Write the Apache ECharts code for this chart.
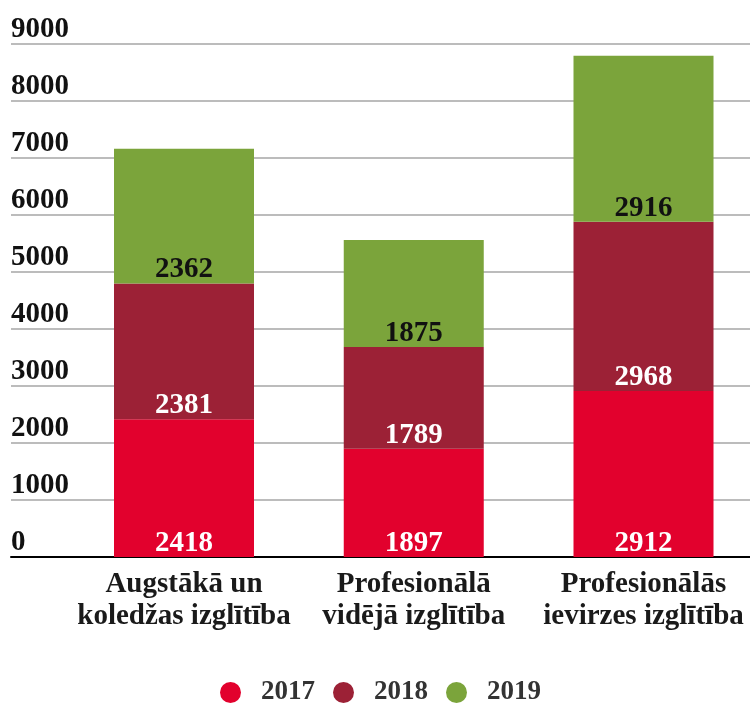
<!DOCTYPE html>
<html>
<head>
<meta charset="utf-8">
<script src="https://cdn.jsdelivr.net/npm/echarts@6/dist/echarts.min.js"></script>
<style>
  html, body { margin: 0; padding: 0; background: #fff; }
  #chart { width: 750px; height: 704px; }
</style>
</head>
<body>
<div id="chart"></div>
<script>
const categories = ['Augstākā un\nkoledžas izglītība', 'Profesionālā\nvidējā izglītība', 'Profesionālās\nievirzes izglītība']
const years = ['2017', '2018', '2019']
const values2017 = [2418, 1897, 2912]
const values2018 = [2381, 1789, 2968]
const values2019 = [2362, 1875, 2916]
const yTicks = [0, 1000, 2000, 3000, 4000, 5000, 6000, 7000, 8000, 9000]

const colors = ['#e2012d', '#9c2136', '#7ba43b']
const labelColors = ['#fff', '#fff', '#111']
const font = 'Liberation Serif, Times New Roman, serif'

const chart = echarts.init(document.getElementById('chart'))

function makeSeries (name, data, idx) {
  return {
    name: name,
    type: 'bar',
    stack: 'total',
    xAxisIndex: 1,
    yAxisIndex: 1,
    barWidth: 140,
    itemStyle: { color: colors[idx] },
    label: {
      show: true,
      position: 'insideBottom',
      distance: -1,
      color: labelColors[idx],
      fontFamily: font,
      fontWeight: 'bold',
      fontSize: 29,
      lineHeight: 29
    },
    data: data
  }
}

// bar centres sit at 184 / 413.5 / 643.5 px, so the bar grid uses boundaryGap false
const options = {
  animation: false,
  grid: [
    { left: 11, right: 0, top: 44, bottom: 147, containLabel: false },
    { left: 184, right: 106.5, top: 44, bottom: 147, containLabel: false }
  ],
  legend: {
    data: years,
    left: 215,
    top: 674,
    icon: 'circle',
    itemWidth: 21,
    itemHeight: 21,
    itemGap: 18,
    textStyle: {
      fontFamily: font,
      fontWeight: 'bold',
      fontSize: 27,
      color: '#333',
      padding: [0, 0, 0, 15]
    }
  },
  xAxis: [
    {
      gridIndex: 0,
      type: 'category',
      data: [''],
      axisLine: { show: true, lineStyle: { color: '#000', width: 2 } },
      axisTick: { show: false },
      axisLabel: { show: false }
    },
    {
      gridIndex: 1,
      type: 'category',
      boundaryGap: false,
      data: categories,
      axisLine: { show: false },
      axisTick: { show: false },
      axisLabel: {
        interval: 0,
        margin: 12,
        fontFamily: font,
        fontWeight: 'bold',
        fontSize: 29,
        lineHeight: 32,
        color: '#1a1a1a'
      }
    }
  ],
  yAxis: [
    {
      gridIndex: 0,
      type: 'value',
      min: 0,
      max: 9000,
      interval: 1000,
      axisLine: { show: false },
      axisTick: { show: false },
      splitLine: { lineStyle: { color: '#a6a6a6', width: 1.5 } },
      axisLabel: {
        inside: true,
        margin: 0,
        align: 'left',
        verticalAlign: 'bottom',
        lineHeight: 29,
        padding: [0, 0, 0, 0],
        fontFamily: font,
        fontWeight: 'bold',
        fontSize: 29,
        color: '#111',
        formatter: function (v) { return yTicks.indexOf(v) >= 0 ? String(v) : '' }
      }
    },
    {
      gridIndex: 1,
      type: 'value',
      min: 0,
      max: 9000,
      interval: 1000,
      show: false
    }
  ],
  series: [
    makeSeries(years[0], values2017, 0),
    makeSeries(years[1], values2018, 1),
    makeSeries(years[2], values2019, 2)
  ]
}

chart.setOption(options)
</script>
</body>
</html>
